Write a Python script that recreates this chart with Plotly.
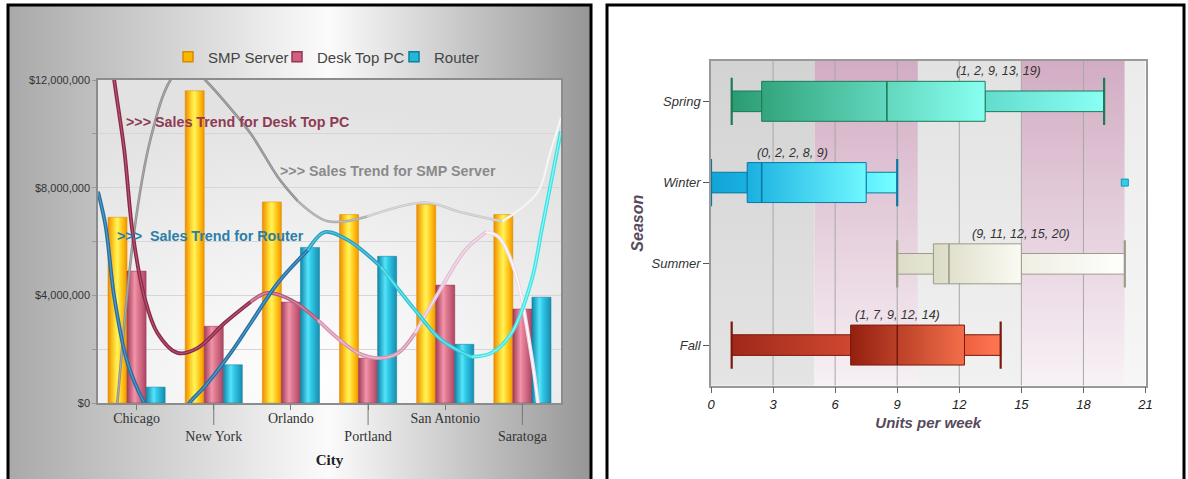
import base64
import math
import plotly.graph_objects as go

W, H = 1188, 479

# ---------------- sales by city ----------------
cities = ["Chicago", "New York", "Orlando", "Portland", "San Antonio", "Saratoga"]
smp_server = [6.9e6, 11.6e6, 7.47e6, 7.0e6, 7.37e6, 7.0e6]
desk_top_pc = [4.9e6, 2.85e6, 3.75e6, 1.67e6, 4.38e6, 3.49e6]
router = [0.59e6, 1.42e6, 5.78e6, 5.45e6, 2.18e6, 3.93e6]

# trend curves (x measured in city slots, Chicago = 0)
smp_trend_x = [-0.4, -0.25, -0.03, 0.18, 0.44, 0.67, 0.89, 1.05, 1.48, 1.83, 2.09,
               2.48, 2.99, 3.74, 4.19, 4.74, 5.19, 5.36, 5.5]
smp_trend_y = [-5.0e6, 0.0, 6.4e6, 9.8e6, 12.0e6, 12.6e6, 12.0e6, 11.5e6, 10.0e6, 8.4e6, 7.5e6,
               6.75e6, 6.93e6, 7.45e6, 7.1e6, 6.75e6, 7.8e6, 9.3e6, 10.6e6]
desk_trend_x = [-0.45, -0.29, -0.16, -0.05, 0.10, 0.27, 0.53, 0.79, 1.14, 1.48, 1.70, 2.0,
                2.35, 2.87, 3.17, 3.39, 3.61, 3.91, 4.26, 4.53, 4.69, 4.91, 5.12, 5.2, 5.3]
desk_trend_y = [15.5e6, 12.0e6, 9.4e6, 6.3e6, 3.95e6, 2.6e6, 1.86e6, 2.04e6, 2.97e6, 3.76e6, 4.09e6, 3.83e6,
                3.08e6, 1.86e6, 1.67e6, 1.86e6, 2.6e6, 4.09e6, 5.68e6, 6.35e6, 6.17e6, 4.83e6, 1.71e6, 0.0, -3.0e6]
router_trend_x = [-0.5, -0.40, -0.29, -0.117, 0.10, 0.39, 0.684, 0.88, 1.22, 1.48, 1.83, 2.22,
                  2.44, 2.74, 3.17, 3.61, 3.95, 4.34, 4.60, 4.86, 5.12, 5.25, 5.5]
router_trend_y = [7.85e6, 6.55e6, 3.95e6, 1.49e6, 0.0, -1.3e6, 0.0, 0.6e6, 1.86e6, 2.97e6, 4.46e6, 5.68e6,
                  6.35e6, 6.05e6, 5.05e6, 3.45e6, 2.34e6, 1.71e6, 1.86e6, 2.6e6, 4.57e6, 6.43e6, 10.1e6]

y_ticks = [0, 2e6, 4e6, 6e6, 8e6, 10e6, 12e6]

# ---------------- units per week by season ----------------
seasons = ["Spring", "Winter", "Summer", "Fall"]
low = [1, 0, 9, 1]
q1 = [2.45, 1.75, 10.75, 6.75]
median = [8.5, 2.45, 11.5, 9]
q3 = [13.25, 7.5, 15, 12.25]
high = [19, 9, 20, 14]
outliers = [[], [20], [], []]
label_at = [13.9, 3.95, 15.0, 9.0]
band_edges = [0, 5, 10, 15, 20, 21]
unit_ticks = [0, 3, 6, 9, 12, 15, 18, 21]


def px_x(v):
    return v / W


def px_y(v):
    return 1 - v / H


def svg_uri(svg):
    return "data:image/svg+xml;base64," + base64.b64encode(svg.encode()).decode()


fig = go.Figure()

# ---- bars: one shaded column per city and product ----
bar_w = 0.247
bar_styles = [
    ("SMP Server", smp_server,
     [[0, "#ef8a00"], [0.38, "#ffe43a"], [0.5, "#fff25a"], [0.78, "#ffbf10"], [1, "#f09400"]],
     "#d98a00", "#f7b800"),
    ("Desk Top PC", desk_top_pc,
     [[0, "#a23c5a"], [0.4, "#f294aa"], [0.55, "#e27c94"], [1, "#ad4562"]],
     "#963552", "#d0607e"),
    ("Router", router,
     [[0, "#0f86a8"], [0.4, "#56e4fa"], [0.55, "#32cbe9"], [1, "#168db0"]],
     "#0e7d9e", "#22b8d8"),
]
for k, (name, vals, scale, edge, solid) in enumerate(bar_styles):
    for i, v in enumerate(vals):
        x0 = i + (k - 1.5) * bar_w
        x1 = x0 + bar_w
        fig.add_trace(go.Scatter(
            x=[x0, x1, x1, x0, x0], y=[0, 0, v, v, 0],
            mode="lines", fill="toself",
            fillgradient=dict(type="horizontal", colorscale=scale, start=x0, stop=x1),
            line=dict(width=0.5, color=edge),
            hoverinfo="skip", showlegend=False, xaxis="x", yaxis="y"))

# ---- smoothed trend curves, coloured piece by piece (outer colour, inner highlight) ----
trend_styles = [
    (smp_trend_x, smp_trend_y,
     [(10, "#8c8c8c", "#b4b4b4"), (12, "#a6a6a6", "#c8c8c8"), (15, "#c6c6c6", "#e2e2e2"), (18, "#eeeeee", "#ffffff")],
     2.6),
    (desk_trend_x, desk_trend_y,
     [(9, "#8a2a48", "#b85474"), (12, "#b05a7a", "#d88aa6"), (16, "#d593b0", "#f0c0d4"),
      (19, "#e2bed6", "#f6e0ec"), (24, "#eedde9", "#ffffff")],
     3.8),
    (router_trend_x, router_trend_y,
     [(11, "#266ea0", "#4f9ccc"), (14, "#29a0c2", "#5cc6e0"), (17, "#2fc7d6", "#70e6ee"), (22, "#40e2e4", "#90f6f6")],
     3.8),
]
for xs, ys, pieces, width in trend_styles:
    for layer in (1, 2):
        start = 0
        for end, outer, inner in pieces:
            fig.add_trace(go.Scatter(
                x=xs[start:end + 1], y=ys[start:end + 1], mode="lines",
                line=dict(shape="spline", smoothing=1.0,
                          color=outer if layer == 1 else inner,
                          width=width if layer == 1 else width * 0.3),
                hoverinfo="skip", showlegend=False, xaxis="x", yaxis="y"))
            start = end

# ---- legend entries ----
for k, (name, vals, scale, edge, solid) in enumerate(bar_styles):
    fig.add_trace(go.Scatter(
        x=[None], y=[None], mode="markers", name=name,
        marker=dict(symbol="square", size=10, color=solid, line=dict(color=edge, width=1.5)),
        legend="legend" if k == 0 else "legend%d" % (k + 1),
        xaxis="x", yaxis="y"))

# ---- background bands ----
band_tops = ["#d3d3d3", "#d2acc3", "#e2e2e2", "#d2acc3", "#ebebeb"]
band_bottoms = ["#e4e4e4", "#f7f0f4", "#f1f1f1", "#f8f2f6", "#f6f6f6"]
y_lo, y_hi = -0.5, len(seasons) - 0.5
for a, b, top, bottom in zip(band_edges[:-1], band_edges[1:], band_tops, band_bottoms):
    fig.add_trace(go.Scatter(
        x=[a, b, b, a, a], y=[y_lo, y_lo, y_hi, y_hi, y_lo], mode="lines", fill="toself",
        fillgradient=dict(type="vertical", colorscale=[[0, bottom], [1, top]], start=y_lo, stop=y_hi),
        line=dict(width=0), hoverinfo="skip", showlegend=False, xaxis="x2", yaxis="y2"))

grid_x, grid_y = [], []
for t in unit_ticks[1:-1]:
    grid_x += [t, t, None]
    grid_y += [y_lo, y_hi, None]
fig.add_trace(go.Scatter(x=grid_x, y=grid_y, mode="lines", line=dict(color="#a7a7a7", width=1),
                         hoverinfo="skip", showlegend=False, xaxis="x2", yaxis="y2"))

# ---- box and whisker bars ----
box_styles = [
    # left whisker, box, right whisker, outline
    ([[0, "#2b9b72"], [1, "#37a781"]], [[0, "#33a57d"], [1, "#88fff1"]], [[0, "#63dccc"], [1, "#8afff5"]], "#1c7a57"),
    ([[0, "#12a5d6"], [1, "#19b0e0"]], [[0, "#1ab0e0"], [1, "#70f7ff"]], [[0, "#5ff0ff"], [1, "#76ffff"]], "#0a78a2"),
    ([[0, "#dcdcc8"], [1, "#e5e5d3"]], [[0, "#dcdbc5"], [1, "#fafaf4"]], [[0, "#efefe4"], [1, "#fefefc"]], "#9c9c8a"),
    ([[0, "#a0281a"], [1, "#cf4830"]], [[0, "#93200f"], [1, "#f36e4a"]], [[0, "#ee6040"], [1, "#ff7852"]], "#7a1a0c"),
]
wh, bh, ch = 0.127, 0.246, 0.29
for j, season in enumerate(seasons):
    pos = len(seasons) - 1 - j
    lw_scale, box_scale, rw_scale, edge = box_styles[j]
    pieces = [(low[j], q1[j], wh, lw_scale), (q3[j], high[j], wh, rw_scale), (q1[j], q3[j], bh, box_scale)]
    for a, b, half, scale in pieces:
        fig.add_trace(go.Scatter(
            x=[a, b, b, a, a], y=[pos - half, pos - half, pos + half, pos + half, pos - half],
            mode="lines", fill="toself",
            fillgradient=dict(type="horizontal", colorscale=scale, start=a, stop=b),
            line=dict(width=1, color=edge), hoverinfo="skip", showlegend=False,
            xaxis="x2", yaxis="y2"))
    fig.add_trace(go.Scatter(
        x=[low[j], low[j], None, high[j], high[j]],
        y=[pos - ch, pos + ch, None, pos - ch, pos + ch],
        mode="lines", line=dict(color=edge, width=2.2), hoverinfo="skip", showlegend=False,
        xaxis="x2", yaxis="y2"))
    fig.add_trace(go.Scatter(
        x=[median[j], median[j]], y=[pos - bh, pos + bh],
        mode="lines", line=dict(color=edge, width=1.6), hoverinfo="skip", showlegend=False,
        xaxis="x2", yaxis="y2"))
    if outliers[j]:
        fig.add_trace(go.Scatter(
            x=outliers[j], y=[pos] * len(outliers[j]), mode="markers",
            marker=dict(symbol="square", size=7, color="#35cdea", line=dict(color="#1096b8", width=1)),
            hoverinfo="skip", showlegend=False, xaxis="x2", yaxis="y2"))


def nearest(v):
    return int(math.floor(v + 0.5))


annotations = []
for j, season in enumerate(seasons):
    pos = len(seasons) - 1 - j
    summary = [low[j], q1[j], median[j], q3[j], high[j]]
    annotations.append(dict(
        x=label_at[j], y=pos + bh, xref="x2", yref="y2", yshift=10,
        text="(" + ", ".join(str(nearest(v)) for v in summary) + ")",
        showarrow=False, xanchor="center", yanchor="middle",
        font=dict(family="Liberation Sans, Arial", size=12.5, color="#333333", style="italic")))

trend_notes = [
    (">>> Sales Trend for Desk Top PC", 124, 122, "#8e3a55"),
    (">>> Sales Trend for SMP Server", 278, 171, "#8a8a8a"),
    (">>>  Sales Trend for Router", 115, 236, "#2b7ea6"),
]
for text, x, y, color in trend_notes:
    annotations.append(dict(
        x=px_x(x), y=px_y(y), xref="paper", yref="paper", text=text.replace("  ", "&nbsp; "),
        showarrow=False, xanchor="left", yanchor="middle",
        font=dict(family="Liberation Sans Narrow, Arial Narrow, Liberation Sans, Arial",
                  size=14.3, color=color, weight="bold")))

# ---- panel backgrounds ----
panel_svg = ('<svg xmlns="http://www.w3.org/2000/svg" width="100" height="100" viewBox="0 0 100 100" '
             'preserveAspectRatio="none"><defs><linearGradient id="g" x1="0" y1="0" x2="1" y2="0">'
             '<stop offset="0" stop-color="#a9a9a9"/><stop offset="0.55" stop-color="#fbfbfb"/>'
             '<stop offset="1" stop-color="#969696"/></linearGradient></defs>'
             '<rect width="100" height="100" fill="url(#g)"/></svg>')
area_svg = ('<svg xmlns="http://www.w3.org/2000/svg" width="100" height="100" viewBox="0 0 100 100" '
            'preserveAspectRatio="none"><defs><radialGradient id="r" cx="0.45" cy="0.92" r="0.85">'
            '<stop offset="0" stop-color="#ffffff"/><stop offset="1" stop-color="#e2e2e2"/>'
            '</radialGradient></defs><rect width="100" height="100" fill="url(#r)"/></svg>')
images = [
    dict(source=svg_uri(panel_svg), xref="paper", yref="paper", x=px_x(8), y=px_y(5),
         sizex=(591 - 8) / W, sizey=1.02, xanchor="left", yanchor="top", sizing="stretch", layer="below"),
    dict(source=svg_uri(area_svg), xref="paper", yref="paper", x=px_x(98), y=px_y(80),
         sizex=(561 - 98) / W, sizey=(403 - 80) / H, xanchor="left", yanchor="top", sizing="stretch", layer="below"),
]

shapes = [
    dict(type="rect", xref="paper", yref="paper", x0=px_x(8), x1=px_x(591), y0=-0.05, y1=px_y(5),
         line=dict(color="black", width=3), fillcolor="rgba(0,0,0,0)", layer="above"),
    dict(type="rect", xref="paper", yref="paper", x0=px_x(607), x1=px_x(1184), y0=-0.05, y1=px_y(5),
         line=dict(color="black", width=3), fillcolor="rgba(0,0,0,0)", layer="above"),
]
# longer ticks for the lower row of city labels
for i in range(1, len(cities), 2):
    xf = (i + 0.5) / len(cities)
    shapes.append(dict(type="line", xref="x domain", yref="y domain", x0=xf, x1=xf, y0=0, y1=-22 / 323,
                       line=dict(color="#777777", width=1)))

legend_common = dict(orientation="h", yanchor="middle", xanchor="left", y=px_y(57),
                     bgcolor="rgba(0,0,0,0)", itemwidth=30,
                     font=dict(family="Liberation Sans, Arial", size=15, color="#444444"))

fig.update_layout(
    width=W, height=H, margin=dict(l=0, r=0, t=0, b=0, pad=0, autoexpand=False),
    paper_bgcolor="white", plot_bgcolor="rgba(0,0,0,0)",
    font=dict(family="Liberation Sans, Arial", color="#333333"),
    showlegend=True,
    legend=dict(x=px_x(168), **legend_common),
    legend2=dict(x=px_x(277), **legend_common),
    legend3=dict(x=px_x(394), **legend_common),
    images=images, shapes=shapes, annotations=annotations,
    xaxis=dict(
        domain=[px_x(98), px_x(561)], range=[-0.5, len(cities) - 0.5], anchor="y",
        tickvals=list(range(len(cities))),
        ticktext=[c if i % 2 == 0 else "<br>" + c for i, c in enumerate(cities)],
        tickfont=dict(family="Liberation Serif, Times New Roman", size=14, color="#333333"),
        ticks="outside", ticklen=5, tickcolor="#777777", automargin=False, ticklabelstandoff=-4,
        showgrid=False, zeroline=False, showline=True, linecolor="#8c8c8c", linewidth=1.5, mirror=True,
        title=dict(text="City", standoff=12,
                   font=dict(family="Liberation Serif, Times New Roman", size=15, color="#222222", weight="bold"))),
    yaxis=dict(
        domain=[px_y(403), px_y(80)], range=[0, 12e6], anchor="x",
        tickvals=y_ticks, ticktext=["${:,.0f}".format(v) if v % 4e6 == 0 else "" for v in y_ticks],
        tickfont=dict(size=11, color="#333333"), automargin=False,
        ticks="outside", ticklen=4, tickcolor="#999999",
        showgrid=True, gridcolor="#d6d6d6", gridwidth=1, zeroline=False,
        showline=True, linecolor="#8c8c8c", linewidth=1.5, mirror=True),
    xaxis2=dict(
        domain=[px_x(711), px_x(1145.5)], range=[0, 21], anchor="y2",
        tickvals=unit_ticks, tickfont=dict(size=13, color="#222222", style="italic"),
        ticks="outside", ticklen=6, tickcolor="#666666", automargin=False,
        showgrid=False, zeroline=False, showline=True, linecolor="#999999", linewidth=1.5, mirror=True,
        title=dict(text="Units per week", standoff=6,
                   font=dict(size=15, color="#574a5c", weight="bold", style="italic"))),
    yaxis2=dict(
        domain=[px_y(385.7), px_y(60.7)], range=[y_lo, y_hi], anchor="x2",
        tickvals=[len(seasons) - 1 - j for j in range(len(seasons))], ticktext=seasons,
        tickfont=dict(size=13, color="#333333", style="italic"), automargin=False,
        ticks="outside", ticklen=6, tickcolor="#555555",
        showgrid=False, zeroline=False, showline=True, linecolor="#999999", linewidth=1.5, mirror=True,
        title=dict(text="Season", standoff=4,
                   font=dict(size=16, color="#574a5c", weight="bold", style="italic"))),
)

fig.write_html("out.html")
